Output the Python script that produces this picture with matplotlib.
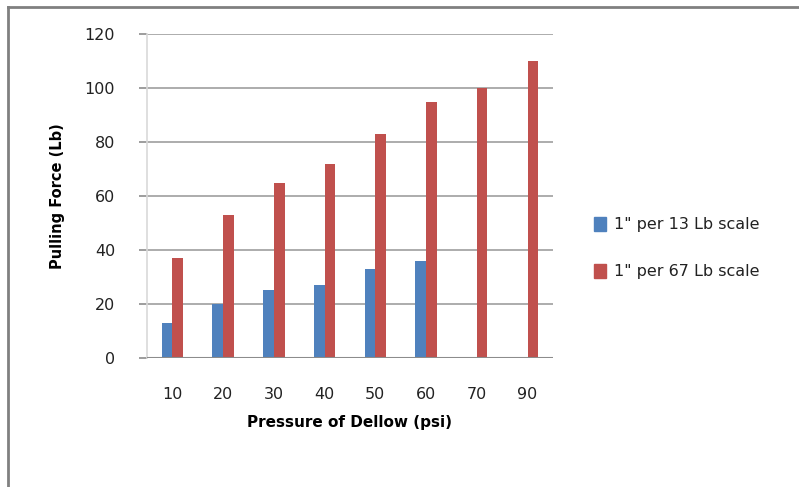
import matplotlib
matplotlib.use("Agg")
import matplotlib.pyplot as plt
import numpy as np
from matplotlib.lines import Line2D
from matplotlib.patches import Patch

categories = ["10", "20", "30", "40", "50", "60", "70", "90"]
scale13 = [13, 20, 25, 27, 33, 36, None, None]
scale67 = [37, 53, 65, 72, 83, 95, 100, 110]
series_names = ['1" per 13 Lb scale', '1" per 67 Lb scale']
yticks = [0, 20, 40, 60, 80, 100, 120]

blue = "#4F81BD"
red = "#C0504D"

fig = plt.figure(figsize=(7.99, 4.87), dpi=100)
ax = fig.add_axes([0.184, 0.265, 0.508, 0.665])

x = np.arange(len(categories))
w = 0.21
b_idx = [i for i, v in enumerate(scale13) if v is not None]
ax.bar(x[b_idx] - w / 2, [scale13[i] for i in b_idx], width=w, color=blue, zorder=3)
ax.bar(x + w / 2, scale67, width=w, color=red, zorder=3)

ax.set_xlim(-0.5, len(categories) - 0.5)
ax.set_ylim(0, 120)
ax.set_yticks(yticks)
ax.set_yticklabels([str(t) for t in yticks])
ax.set_xticks(x)
ax.set_xticklabels(categories)

ax.yaxis.grid(True, color="#a6a6a6", linewidth=1.3, zorder=0)
ax.set_axisbelow(True)
for s in ["top", "right", "bottom"]:
    ax.spines[s].set_visible(False)
ax.spines["left"].set_color("#d9d9d9")
ax.spines["left"].set_linewidth(1.2)
ax.axhline(0, color="#8c8c8c", linewidth=1.5, zorder=4)

ax.tick_params(axis="y", length=6, color="#8c8c8c", width=1.2, pad=17,
               labelsize=11.5, labelcolor="#222222")
ax.tick_params(axis="x", length=0, pad=21, labelsize=11.5, labelcolor="#222222")

ax.set_ylabel("Pulling Force (Lb)", fontsize=10.5, fontweight="bold", labelpad=14)
ax.set_xlabel("Pressure of Dellow (psi)", fontsize=11, fontweight="bold", labelpad=9)

handles = [Patch(facecolor=blue, edgecolor=blue), Patch(facecolor=red, edgecolor=red)]
fig.legend(handles, series_names, loc="center left", bbox_to_anchor=(0.726, 0.490),
           frameon=False, fontsize=11.5, handlelength=0.75, handleheight=0.9,
           handletextpad=0.5, labelspacing=2.0, labelcolor="#222222")

# chart frame (left and top edges)
H, W = 487.0, 799.0
fig.add_artist(Line2D([8 / W, 8 / W], [1 - 7 / H, 0], color="#808080", linewidth=2,
                      transform=fig.transFigure))
fig.add_artist(Line2D([8 / W, 1], [1 - 7 / H, 1 - 7 / H], color="#808080", linewidth=2,
                      transform=fig.transFigure))

fig.savefig("out.png", dpi=100)
